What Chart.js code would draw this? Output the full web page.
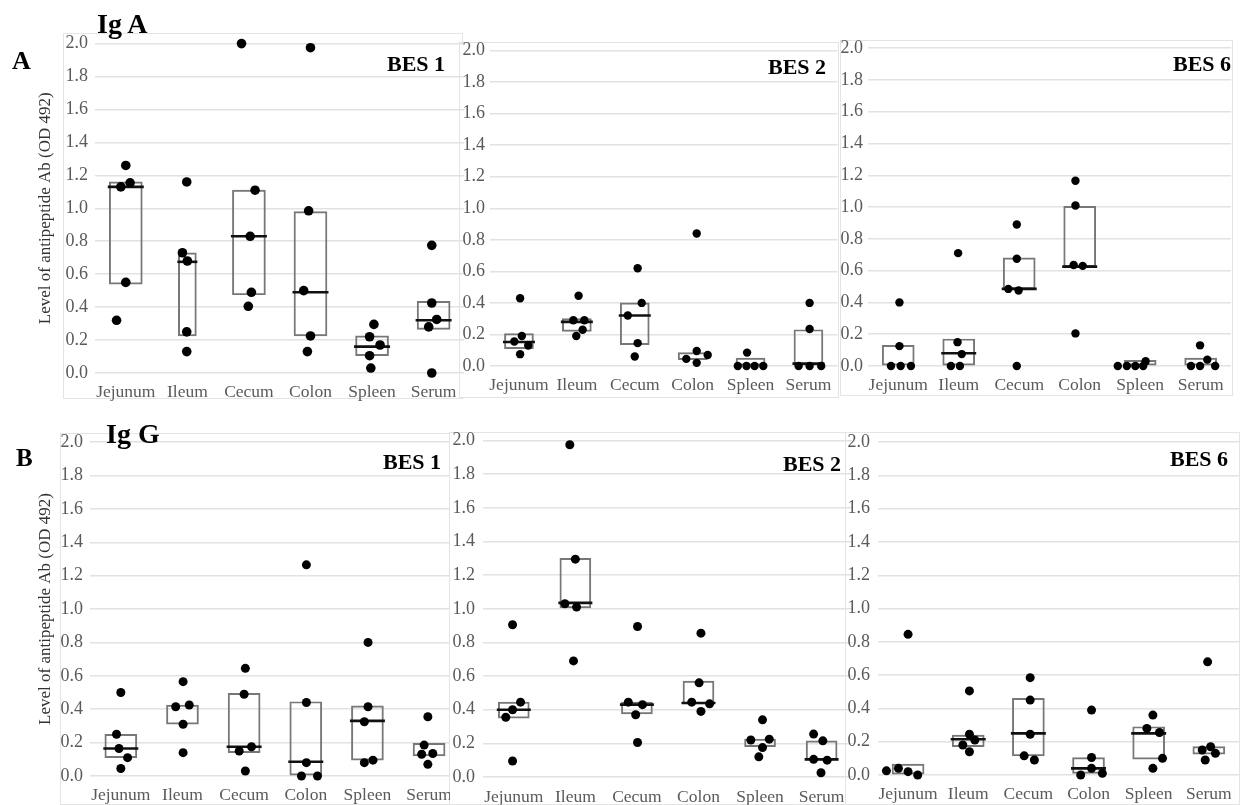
<!DOCTYPE html>
<html>
<head>
<meta charset="utf-8">
<script src="https://cdn.jsdelivr.net/npm/chart.js@4.4.0/dist/chart.umd.min.js"></script>
<style>
    body { margin: 0; background: #fff; width: 1250px; height: 805px; position: relative; overflow: hidden;
           font-family: 'Liberation Serif', 'Times New Roman', serif; }
    .frame { position: absolute; border: 1px solid #e4e4e4; background: #fff; box-sizing: border-box; }
    .wrap { position: absolute; overflow: hidden; }
    .lbl { position: absolute; font-weight: bold; line-height: 1; color: #000; white-space: nowrap; }
</style>
</head>
<body>

<div class="frame" style="left:63px;top:33px;width:400px;height:366px;"></div>
<div class="frame" style="left:459px;top:42px;width:380px;height:356px;"></div>
<div class="frame" style="left:840px;top:40px;width:393px;height:356px;"></div>
<div class="frame" style="left:60px;top:433px;width:393px;height:372px;"></div>
<div class="frame" style="left:449px;top:432px;width:402px;height:373px;"></div>
<div class="frame" style="left:845px;top:432px;width:395px;height:373px;"></div>

<script>
/* =========================================
   Ig A / Ig G antipeptide Ab levels (OD 492)
   ========================================= */

const categories = ["Jejunum", "Ileum", "Cecum", "Colon", "Spleen", "Serum"];
const yMin = 0;
const yMax = 2;
const yStep = 0.2;
const yTitle = "Level of antipeptide Ab (OD 492)";

/* Ig A - BES 1 */
const igaBes1Dots = [
    [1.26, 1.13, 1.155, 0.55, 0.32],
    [1.16, 0.73, 0.68, 0.25, 0.13],
    [2.00, 1.11, 0.83, 0.49, 0.405],
    [1.975, 0.985, 0.50, 0.225, 0.13],
    [0.295, 0.22, 0.17, 0.105, 0.03],
    [0.775, 0.425, 0.325, 0.28, 0.00]
];
const igaBes1Jitter = [
    [0, -0.08, 0.07, 0, -0.15],
    [-0.01, -0.08, 0, -0.01, -0.01],
    [-0.12, 0.10, 0.02, 0.04, -0.01],
    [0, -0.03, -0.11, 0, -0.05],
    [0.03, -0.04, 0.13, -0.04, -0.02],
    [-0.03, -0.03, 0.05, -0.08, -0.03]
];
const igaBes1Box = [[0.54, 1.16], [0.225, 0.73], [0.475, 1.11], [0.225, 0.98], [0.105, 0.225], [0.265, 0.435]];
const igaBes1Median = [1.13, 0.675, 0.83, 0.49, 0.16, 0.32];

/* Ig A - BES 2 */
const igaBes2Dots = [
    [0.43, 0.19, 0.155, 0.13, 0.075],
    [0.445, 0.29, 0.29, 0.23, 0.19],
    [0.62, 0.40, 0.32, 0.145, 0.06],
    [0.84, 0.095, 0.07, 0.045, 0.02],
    [0.085, 0, 0, 0, 0],
    [0.40, 0.235, 0, 0, 0]
];
const igaBes2Jitter = [
    [0.02, 0.05, -0.08, 0.16, 0.02],
    [0.03, -0.06, 0.13, 0.10, -0.01],
    [0.05, 0.12, -0.12, 0.05, 0],
    [0.07, 0.07, 0.26, -0.11, 0.07],
    [-0.06, -0.22, -0.07, 0.07, 0.22],
    [0.02, 0.02, -0.17, 0.02, 0.22]
];
const igaBes2Box = [[0.11, 0.205], [0.22, 0.30], [0.135, 0.40], [0.04, 0.085], [0, 0.05], [0.005, 0.23]];
const igaBes2Median = [0.152, 0.28, 0.32, null, null, 0.015];

/* Ig A - BES 6 */
const igaBes6Dots = [
    [0.40, 0.125, 0, 0, 0],
    [0.71, 0.15, 0.075, 0, 0],
    [0.89, 0.675, 0.485, 0.475, 0],
    [1.165, 1.01, 0.635, 0.63, 0.205],
    [0, 0, 0, 0, 0.03],
    [0.13, 0.04, 0, 0, 0]
];
const igaBes6Jitter = [
    [0.02, 0.02, -0.12, 0.04, 0.21],
    [-0.01, -0.02, 0.05, -0.13, 0.02],
    [-0.04, -0.04, -0.18, -0.01, -0.04],
    [-0.07, -0.07, -0.10, 0.05, -0.07],
    [-0.37, -0.22, -0.08, 0.05, 0.09],
    [-0.01, 0.11, -0.16, -0.01, 0.24]
];
const igaBes6Box = [[0, 0.13], [0, 0.17], [0.485, 0.68], [0.625, 1.005], [0, 0.035], [0, 0.05]];
const igaBes6Median = [null, 0.08, 0.485, 0.625, null, null];

/* Ig G - BES 1 */
const iggBes1Dots = [
    [0.50, 0.25, 0.165, 0.11, 0.045],
    [0.565, 0.415, 0.425, 0.31, 0.14],
    [0.645, 0.49, 0.175, 0.15, 0.03],
    [1.265, 0.44, 0.08, 0, 0],
    [0.80, 0.415, 0.325, 0.095, 0.08],
    [0.355, 0.185, 0.135, 0.13, 0.07]
];
const iggBes1Jitter = [
    [0, -0.07, -0.03, 0.11, 0],
    [0.01, -0.11, 0.11, 0.01, 0.01],
    [0.02, 0, 0.12, -0.08, 0.02],
    [0.01, 0.01, 0.01, -0.07, 0.19],
    [0.01, 0.01, -0.05, 0.09, -0.05],
    [-0.02, -0.08, 0.06, -0.12, -0.02]
];
const iggBes1Box = [[0.11, 0.25], [0.31, 0.425], [0.14, 0.495], [0, 0.445], [0.095, 0.42], [0.12, 0.195]];
const iggBes1Median = [0.165, null, 0.175, 0.085, 0.33, null];

/* Ig G - BES 2 */
const iggBes2Dots = [
    [0.905, 0.445, 0.40, 0.355, 0.095],
    [1.975, 1.295, 1.03, 1.01, 0.69],
    [0.895, 0.445, 0.43, 0.37, 0.205],
    [0.855, 0.56, 0.445, 0.435, 0.39],
    [0.34, 0.22, 0.225, 0.175, 0.12],
    [0.255, 0.215, 0.105, 0.10, 0.025]
];
const iggBes2Jitter = [
    [-0.02, 0.11, -0.02, -0.13, -0.02],
    [-0.09, 0, -0.17, 0.02, -0.03],
    [0.01, -0.14, 0.09, -0.02, 0.01],
    [0.04, 0.01, -0.11, 0.18, 0.04],
    [0.04, -0.15, 0.15, 0.04, -0.02],
    [-0.13, 0.02, -0.13, 0.09, -0.01]
];
const iggBes2Box = [[0.35, 0.445], [1.005, 1.30], [0.375, 0.445], [0.435, 0.57], [0.18, 0.225], [0.10, 0.215]];
const iggBes2Median = [0.40, 1.035, 0.43, 0.44, null, 0.105];

/* Ig G - BES 6 */
const iggBes6Dots = [
    [0.845, 0.025, 0.04, 0.02, 0],
    [0.505, 0.245, 0.21, 0.18, 0.14],
    [0.585, 0.45, 0.245, 0.115, 0.09],
    [0.39, 0.105, 0.04, 0, 0.01],
    [0.36, 0.28, 0.255, 0.10, 0.04],
    [0.68, 0.17, 0.15, 0.13, 0.09]
];
const iggBes6Jitter = [
    [0, -0.36, -0.16, 0, 0.16],
    [0.02, 0.02, 0.11, -0.09, 0.02],
    [0.03, 0.03, 0.03, -0.07, 0.10],
    [0.05, 0.05, 0.05, -0.13, 0.23],
    [0.07, -0.03, 0.18, 0.23, 0.07],
    [-0.02, 0.03, -0.11, 0.11, -0.06]
];
const iggBes6Box = [[0.005, 0.065], [0.17, 0.24], [0.115, 0.46], [0.01, 0.105], [0.095, 0.29], [0.125, 0.17]];
const iggBes6Median = [null, 0.215, 0.25, 0.04, 0.25, null];

/* panel layout, page pixels: wanted plot area + axis room */
const panels = [
    { dots: igaBes1Dots, jitter: igaBes1Jitter, box: igaBes1Box, median: igaBes1Median,
      area: [95, 44, 464, 373], yw: 65, xh: 30, right: 5, clipAt: null,
      tickPad: 7, xPad: 9, titleX: 45, boxW: 33, narrow: [1], narrowW: 18, dotR: 4.8 },
    { dots: igaBes2Dots, jitter: igaBes2Jitter, box: igaBes2Box, median: igaBes2Median,
      area: [490, 51, 837, 366], yw: 29, xh: 30, right: 3, clipAt: null,
      tickPad: 5, xPad: 9, boxW: 29, narrow: [], narrowW: 0, dotR: 4.2 },
    { dots: igaBes6Dots, jitter: igaBes6Jitter, box: igaBes6Box, median: igaBes6Median,
      area: [868, 48, 1231, 366], yw: 30, xh: 30, right: 3, clipAt: null,
      tickPad: 5, xPad: 9, boxW: 32, narrow: [], narrowW: 0, dotR: 4.2 },
    { dots: iggBes1Dots, jitter: iggBes1Jitter, box: iggBes1Box, median: iggBes1Median,
      area: [90, 442, 460, 776], yw: 65, xh: 29, right: 5, clipAt: 450,
      tickPad: 7, xPad: 9, titleX: 45, boxW: 32, narrow: [], narrowW: 0, dotR: 4.5 },
    { dots: iggBes2Dots, jitter: iggBes2Jitter, box: iggBes2Box, median: iggBes2Median,
      area: [483, 441, 852, 777], yw: 34, xh: 28, right: 4, clipAt: null,
      tickPad: 8, xPad: 10, boxW: 31, narrow: [], narrowW: 0, dotR: 4.5 },
    { dots: iggBes6Dots, jitter: iggBes6Jitter, box: iggBes6Box, median: iggBes6Median,
      area: [878, 442, 1239, 775], yw: 33, xh: 30, right: 5, clipAt: null,
      tickPad: 8, xPad: 9, boxW: 32, narrow: [], narrowW: 0, dotR: 4.5 }
];

Chart.defaults.font.family = "'Liberation Serif', 'Times New Roman', serif";

function buildChart(cv, p, padTop) {
    // dots, shifted sideways inside their category
    const dotData = [];
    p.dots.forEach((vals, i) => {
        vals.forEach((v, k) => dotData.push({ x: i + p.jitter[i][k], y: v }));
    });
    const medData = p.median.map((m, i) => ({ x: i, y: m }));
    const wideBoxes = p.box.map((b, i) => (p.narrow.includes(i) ? null : b));
    const narrowBoxes = p.box.map((b, i) => (p.narrow.includes(i) ? b : null));

    const boxStyle = {
        type: "bar", grouped: false, backgroundColor: "rgba(0,0,0,0)",
        borderColor: "#777", borderWidth: 1.3, borderSkipped: false
    };
    const titlePad = p.titleX ? p.titleX - p.area[0] + p.yw - 10 : 0;

    return new Chart(cv, {
        type: "bar",
        data: {
            labels: categories,
            datasets: [
                { type: "scatter", xAxisID: "x2", data: dotData, pointRadius: p.dotR,
                  pointBackgroundColor: "#000", pointBorderColor: "#000", pointBorderWidth: 0, clip: false },
                { type: "scatter", xAxisID: "x2", data: medData, pointStyle: "line",
                  pointRadius: ctx => (p.narrow.includes(ctx.dataIndex) ? p.narrowW / 2 + 1 : p.boxW / 2 + 1.5),
                  pointBorderColor: "#111", pointBorderWidth: 2.6, clip: false },
                Object.assign({ data: wideBoxes, barThickness: p.boxW }, boxStyle),
                Object.assign({ data: narrowBoxes, barThickness: p.narrowW || 1 }, boxStyle)
            ]
        },
        options: {
            responsive: false,
            maintainAspectRatio: false,
            animation: false,
            events: [],
            layout: { padding: { left: 0, right: p.right, top: padTop, bottom: 0 } },
            plugins: { legend: { display: false }, tooltip: { enabled: false } },
            scales: {
                x: {
                    type: "category", offset: true,
                    grid: { display: false, drawTicks: false }, border: { display: false },
                    ticks: { color: "#5a5a5a", font: { size: 17.5 }, padding: p.xPad, autoSkip: false, maxRotation: 0 },
                    afterFit: s => { s.height = p.xh; }
                },
                x2: { type: "linear", display: false, offset: false, min: -0.5, max: 5.5 },
                y: {
                    min: yMin, max: yMax,
                    grid: { color: "#e2e2e2", lineWidth: 1.5, drawTicks: false },
                    border: { display: false },
                    ticks: { stepSize: yStep, color: "#5a5a5a", font: { size: 18 }, padding: p.tickPad,
                             callback: v => v.toFixed(1) },
                    title: { display: !!p.titleX, text: yTitle, color: "#333",
                             font: { size: 17 }, padding: { top: titlePad, bottom: 0 } },
                    afterFit: s => { s.width = p.yw; }
                }
            }
        }
    });
}

function makePanel(p) {
    const [aL, aT, aR, aB] = p.area;
    const wrap = document.createElement("div");
    wrap.className = "wrap";
    const cv = document.createElement("canvas");
    wrap.appendChild(cv);
    document.body.appendChild(wrap);

    // canvas geometry, nudged until the plot area sits where the picture has it
    const g = { x: aL - p.yw, y: aT - 12, w: aR + p.right - (aL - p.yw), h: aB + p.xh - (aT - 12), pad: 12 };
    let chart = null;
    for (let pass = 0; pass < 4; pass++) {
        if (chart) chart.destroy();
        wrap.style.left = g.x + "px";
        wrap.style.top = g.y + "px";
        wrap.style.width = (p.clipAt ? p.clipAt - g.x : g.w) + "px";
        wrap.style.height = g.h + "px";
        cv.width = g.w;
        cv.height = g.h;
        cv.style.width = g.w + "px";
        cv.style.height = g.h + "px";
        chart = buildChart(cv, p, g.pad);
        const a = chart.chartArea;
        g.x = Math.round(g.x + aL - (g.x + a.left));
        g.w = Math.round(g.w + aR - (g.x + a.right));
        const dTop = aT - (g.y + a.top);
        if (g.pad + dTop >= 0) g.pad = Math.round(g.pad + dTop);
        else g.y = Math.round(g.y + dTop);
        g.h = Math.round(g.h + aB - (g.y + a.bottom));
    }
    return chart;
}

panels.forEach(makePanel);
</script>

<div class="lbl" style="left:12px;top:48px;font-size:26px;">A</div>
<div class="lbl" style="left:97px;top:10px;font-size:28px;">Ig A</div>
<div class="lbl" style="left:16px;top:445px;font-size:25px;">B</div>
<div class="lbl" style="left:106px;top:420px;font-size:28px;">Ig G</div>
<div class="lbl" style="left:387px;top:53px;font-size:22px;">BES 1</div>
<div class="lbl" style="left:768px;top:56px;font-size:22px;">BES 2</div>
<div class="lbl" style="left:1173px;top:53px;font-size:22px;">BES 6</div>
<div class="lbl" style="left:383px;top:451px;font-size:22px;">BES 1</div>
<div class="lbl" style="left:783px;top:453px;font-size:22px;">BES 2</div>
<div class="lbl" style="left:1170px;top:448px;font-size:22px;">BES 6</div>

</body>
</html>
